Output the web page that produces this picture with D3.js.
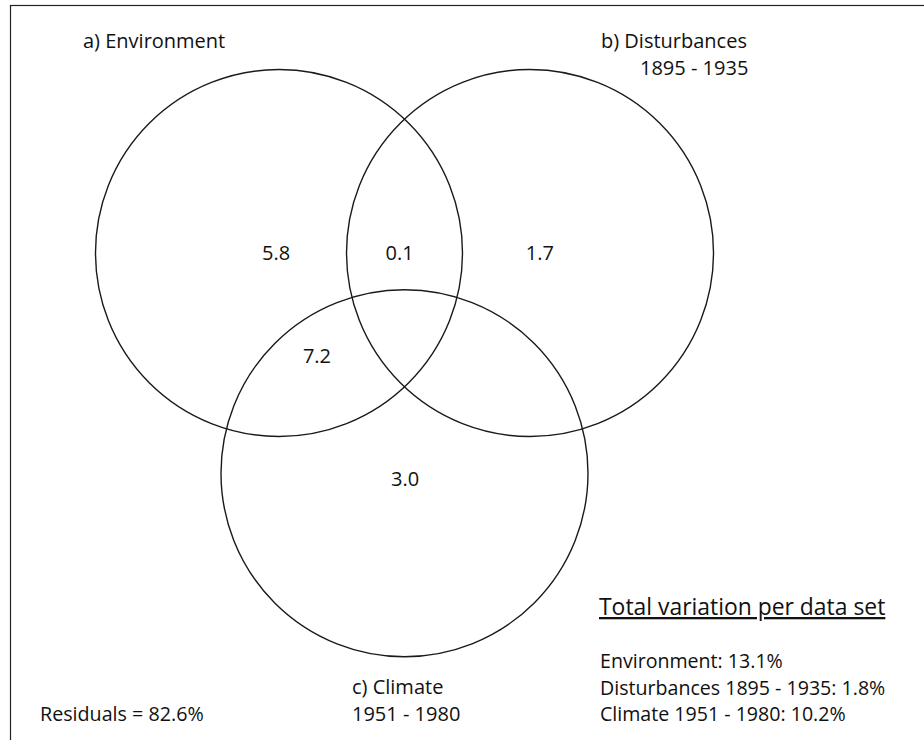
<!DOCTYPE html>
<html>
<head>
<meta charset="utf-8">
<script src="https://cdn.jsdelivr.net/npm/d3@7"></script>
<style>
  html, body { margin: 0; padding: 0; background: #fff; }
  svg { display: block; }
  text { font-family: "Open Sans", "Noto Sans", sans-serif; fill: #111; }
</style>
</head>
<body>
<div id="chart"></div>
<script>
// Variation partitioning: three explanatory sets
const setNames = ["Environment", "Disturbances 1895 - 1935", "Climate 1951 - 1980"];
const setLabels = [["a) Environment"], ["b) Disturbances", "1895 - 1935"], ["c) Climate", "1951 - 1980"]];
// Circle centres in radius units relative to the diagram centre
const setCx = [-0.684, 0.684, 0];
const setCy = [0, 0, 1.2];

// Unique and shared fractions (% of variation)
const regionNames = ["a", "ab", "b", "ac", "c"];
const regionValues = [5.8, 0.1, 1.7, 7.2, 3.0];
const regionX = [-0.70, -0.027, 0.738, -0.477, 0.003];
const regionY = [0, 0, 0, 0.561, 1.232];

const totalValues = [13.1, 1.8, 10.2];
const residualValue = 82.6;

const W = 924, H = 740;
const svg = d3.select("#chart").append("svg").attr("width", W).attr("height", H);

// Outer frame (runs past the right/bottom edge of the page)
svg.append("rect")
  .attr("x", 10.5).attr("y", 5.5)
  .attr("width", W + 20).attr("height", H + 20)
  .attr("fill", "none").attr("stroke", "#222").attr("stroke-width", 1.2);

const R = 183.5;
const x = d3.scaleLinear().domain([0, 1]).range([404.5, 404.5 + R]);
const y = d3.scaleLinear().domain([0, 1]).range([253, 253 + R]);

svg.selectAll("circle.set")
  .data(setNames)
  .join("circle")
  .attr("class", "set")
  .attr("cx", (d, i) => x(setCx[i]))
  .attr("cy", (d, i) => y(setCy[i]))
  .attr("r", x(1) - x(0))
  .attr("fill", "none")
  .attr("stroke", "#1a1a1a")
  .attr("stroke-width", 1.4);

svg.selectAll("text.region")
  .data(regionValues)
  .join("text")
  .attr("class", "region")
  .attr("x", (d, i) => x(regionX[i]))
  .attr("y", (d, i) => y(regionY[i]))
  .attr("text-anchor", "middle")
  .attr("dy", "0.36em")
  .attr("font-size", 20)
  .text(d => d.toFixed(1));

// Set titles
const titlePos = [
  { x: 83, y: 48, x2: 83 },
  { x: 601, y: 48, x2: 640 },
  { x: 352, y: 694, x2: 352 }
];
setLabels.forEach((lines, i) => {
  const t = svg.append("text")
    .attr("x", titlePos[i].x).attr("y", titlePos[i].y)
    .attr("font-size", 20);
  lines.forEach((ln, j) => {
    t.append("tspan")
      .attr("x", j === 0 ? titlePos[i].x : titlePos[i].x2)
      .attr("dy", j === 0 ? 0 : 26.5)
      .text(ln);
  });
});

// Residuals
svg.append("text")
  .attr("x", 40).attr("y", 721)
  .attr("font-size", 19.7)
  .text(`Residuals = ${residualValue}%`);

// Totals per data set
svg.append("text")
  .attr("x", 599).attr("y", 615)
  .attr("font-size", 22.9)
  .attr("text-decoration", "underline")
  .text("Total variation per data set");

svg.selectAll("text.total")
  .data(totalValues)
  .join("text")
  .attr("class", "total")
  .attr("x", 600)
  .attr("y", (d, i) => 668 + i * 26.5)
  .attr("font-size", 19.6)
  .text((d, i) => `${setNames[i]}: ${d.toFixed(1)}%`);
</script>
</body>
</html>
